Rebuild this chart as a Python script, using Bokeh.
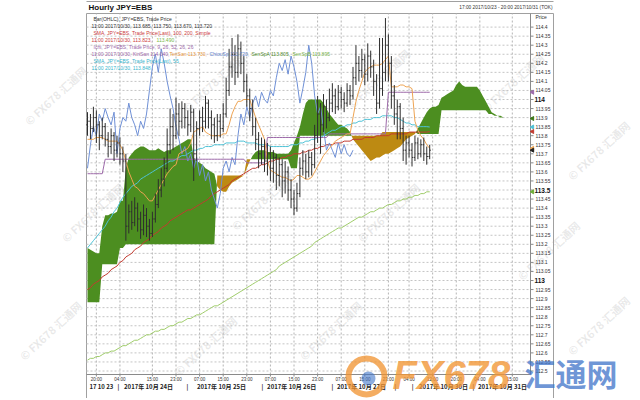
import numpy as np
from bokeh.plotting import figure
from bokeh.models import Range1d, Label
from bokeh.core.properties import value
from bokeh.embed import file_html
from bokeh.resources import INLINE

# ---------------- data (hourly bars, index 0 = 17:00 2017/10/23 TOK) ----------------
bar_open = [113.86, 113.88, 113.84, 113.90, 113.86, 113.80, 113.85, 113.78, 113.74, 113.80,
            113.72, 113.76, 113.70, 113.66, 113.30, 113.38, 113.32, 113.40, 113.34, 113.28,
            113.36, 113.30, 113.26, 113.34, 113.42, 113.50, 113.56, 113.62, 113.75, 113.85,
            113.80, 113.92, 113.88, 113.95, 113.90, 113.86, 113.93, 113.70, 113.84, 113.90,
            113.88, 113.98, 113.90, 113.86, 113.80, 113.88, 113.84, 113.92, 114.05, 114.18,
            114.25, 114.15, 114.28, 114.20, 114.10, 114.02, 113.95, 113.85, 113.78, 113.70,
            113.74, 113.66, 113.70, 113.62, 113.68, 113.58, 113.64, 113.55, 113.60, 113.50,
            113.45, 113.40, 113.48, 113.62, 113.66, 113.60, 113.68, 113.64, 113.80, 113.92,
            113.86, 113.96, 113.90, 113.98, 114.02, 113.96, 114.04, 114.00, 113.98, 114.05,
            114.02, 114.12, 114.20, 114.16, 114.22, 114.14, 114.24, 114.18, 114.10, 113.98,
            114.06, 114.15, 114.30, 114.20, 114.02, 113.92, 113.96, 113.84, 113.72, 113.76,
            113.72, 113.68, 113.76, 113.70, 113.75, 113.70, 113.685]
bar_high = [113.93, 113.92, 113.96, 113.94, 113.88, 113.90, 113.87, 113.82, 113.84, 113.82,
            113.80, 113.79, 113.74, 113.70, 113.42, 113.44, 113.46, 113.43, 113.38, 113.42,
            113.40, 113.34, 113.38, 113.48, 113.56, 113.62, 113.68, 113.84, 113.95, 113.92,
            114.01, 113.98, 113.99, 113.98, 113.94, 113.97, 113.95, 113.88, 113.94, 113.96,
            114.02, 114.00, 113.94, 113.90, 113.92, 113.92, 113.98, 114.12, 114.28, 114.34,
            114.30, 114.36, 114.32, 114.24, 114.14, 114.06, 114.00, 113.90, 113.82, 113.79,
            113.78, 113.76, 113.74, 113.72, 113.70, 113.68, 113.67, 113.66, 113.63, 113.56,
            113.50, 113.54, 113.68, 113.72, 113.70, 113.72, 113.71, 113.86, 114.02, 113.98,
            114.03, 114.00, 114.06, 114.09, 114.06, 114.08, 114.07, 114.04, 114.09, 114.08,
            114.18, 114.30, 114.24, 114.28, 114.25, 114.31, 114.27, 114.22, 114.14, 114.34,
            114.34, 114.45, 114.36, 114.24, 114.08, 114.00, 113.98, 113.90, 113.80, 113.80,
            113.76, 113.80, 113.79, 113.78, 113.79, 113.74, 113.75]
bar_low = [113.80, 113.78, 113.82, 113.76, 113.72, 113.78, 113.74, 113.68, 113.70, 113.66,
           113.68, 113.64, 113.60, 113.22, 113.26, 113.28, 113.30, 113.27, 113.23, 113.25,
           113.24, 113.22, 113.24, 113.32, 113.40, 113.46, 113.52, 113.60, 113.70, 113.72,
           113.78, 113.80, 113.84, 113.84, 113.80, 113.82, 113.55, 113.66, 113.80, 113.82,
           113.84, 113.84, 113.78, 113.76, 113.77, 113.79, 113.82, 113.90, 114.02, 114.12,
           114.08, 114.12, 114.14, 114.04, 113.96, 113.88, 113.80, 113.72, 113.62, 113.64,
           113.60, 113.58, 113.55, 113.54, 113.50, 113.52, 113.46, 113.48, 113.44, 113.40,
           113.36, 113.38, 113.46, 113.58, 113.56, 113.57, 113.58, 113.62, 113.76, 113.70,
           113.82, 113.84, 113.88, 113.93, 113.92, 113.94, 113.95, 113.93, 113.96, 113.97,
           114.00, 114.08, 114.10, 114.12, 114.08, 114.10, 114.12, 114.02, 113.92, 113.95,
           114.02, 114.10, 114.10, 113.95, 113.86, 113.78, 113.78, 113.66, 113.64, 113.68,
           113.63, 113.66, 113.67, 113.68, 113.66, 113.64, 113.67]
bar_close = [113.88, 113.84, 113.90, 113.86, 113.80, 113.85, 113.78, 113.74, 113.80, 113.72,
             113.76, 113.70, 113.66, 113.30, 113.38, 113.32, 113.40, 113.34, 113.28, 113.36,
             113.30, 113.26, 113.34, 113.42, 113.50, 113.56, 113.62, 113.75, 113.85, 113.80,
             113.92, 113.88, 113.95, 113.90, 113.86, 113.93, 113.70, 113.84, 113.90, 113.88,
             113.98, 113.90, 113.86, 113.80, 113.88, 113.84, 113.92, 114.05, 114.18, 114.25,
             114.15, 114.28, 114.20, 114.10, 114.02, 113.95, 113.85, 113.78, 113.70, 113.74,
             113.66, 113.70, 113.62, 113.68, 113.58, 113.64, 113.55, 113.60, 113.50, 113.45,
             113.40, 113.48, 113.62, 113.66, 113.60, 113.68, 113.64, 113.80, 113.92, 113.86,
             113.96, 113.90, 113.98, 114.02, 113.96, 114.04, 114.00, 113.98, 114.05, 114.02,
             114.12, 114.20, 114.16, 114.22, 114.14, 114.24, 114.18, 114.10, 113.98, 114.06,
             114.15, 114.30, 114.20, 114.02, 113.92, 113.96, 113.84, 113.72, 113.76, 113.72,
             113.68, 113.76, 113.70, 113.75, 113.70, 113.685, 113.72]

tenkan = [113.78, 113.78, 113.78, 113.79, 113.79, 113.79, 113.78, 113.77, 113.77, 113.77,
          113.77, 113.75, 113.72, 113.66, 113.60, 113.56, 113.52, 113.51, 113.49, 113.48,
          113.46, 113.44, 113.44, 113.47, 113.50, 113.53, 113.56, 113.59, 113.61, 113.63,
          113.64, 113.70, 113.71, 113.72, 113.73, 113.76, 113.82, 113.83, 113.84, 113.85,
          113.82, 113.81, 113.80, 113.80, 113.80, 113.80, 113.81, 113.81, 113.86, 113.92,
          113.96, 113.99, 113.99, 114.00, 114.00, 114.00, 113.95, 113.90, 113.86, 113.82,
          113.78, 113.66, 113.61, 113.60, 113.59, 113.58, 113.57, 113.57, 113.56, 113.55,
          113.56, 113.58, 113.58, 113.57, 113.56, 113.56, 113.57, 113.60, 113.63, 113.66,
          113.69, 113.71, 113.73, 113.75, 113.77, 113.78, 113.79, 113.80, 113.81, 113.81,
          113.90, 113.99, 114.05, 114.10, 114.15, 114.17, 114.18, 114.19, 114.19, 114.19,
          114.20, 114.22, 114.24, 114.07, 114.07, 114.07, 114.08, 114.08, 114.07, 114.07,
          114.06, 113.88, 113.83, 113.80, 113.78, 113.75, 113.73]
kijun = [113.59, 113.59, 113.59, 113.59, 113.59, 113.59, 113.67, 113.67, 113.67, 113.67,
         113.67, 113.67, 113.67, 113.67, 113.67, 113.67, 113.67, 113.67, 113.67, 113.67,
         113.67, 113.67, 113.67, 113.67, 113.67, 113.67, 113.67, 113.67, 113.67, 113.67,
         113.67, 113.67, 113.67, 113.67, 113.67, 113.67, 113.67, 113.67, 113.67, 113.67,
         113.67, 113.67, 113.67, 113.67, 113.67, 113.67, 113.67, 113.67, 113.67, 113.67,
         113.67, 113.67, 113.67, 113.67, 113.65, 113.65, 113.65, 113.65, 113.65, 113.65,
         113.65, 113.79, 113.79, 113.79, 113.79, 113.79, 113.79, 113.79, 113.79, 113.79,
         113.79, 113.79, 113.79, 113.79, 113.79, 113.79, 113.79, 113.79, 113.79, 113.79,
         113.79, 113.79, 113.81, 113.81, 113.81, 113.81, 113.81, 113.81, 113.81, 113.81,
         113.81, 113.81, 113.81, 113.81, 113.81, 113.81, 113.81, 113.81, 113.81, 113.81,
         113.81, 113.81, 114.04, 114.04, 114.04, 114.04, 114.04, 114.04, 114.04, 114.04,
         114.04, 114.04, 114.04, 114.04, 114.04, 114.04, 114.04]
# leading spans, already displaced 26 bars forward (index 0..142)
senkou_a = [113.18, 113.17, 113.16, 113.15, 113.15, 113.30, 113.36, 113.36, 113.37, 113.37,
            113.38, 113.44, 113.44, 113.62, 113.68, 113.70, 113.72, 113.73, 113.74, 113.74,
            113.73, 113.72, 113.72, 113.72, 113.73, 113.72, 113.71, 113.72, 113.72, 113.73,
            113.74, 113.75, 113.76, 113.77, 113.78, 113.78, 113.68, 113.66, 113.65, 113.64,
            113.62, 113.61, 113.60, 113.59, 113.52, 113.50, 113.49, 113.49, 113.52, 113.54,
            113.55, 113.56, 113.57, 113.58, 113.62, 113.66, 113.69, 113.71, 113.72, 113.72,
            113.72, 113.71, 113.71, 113.71, 113.70, 113.70, 113.70, 113.70, 113.70, 113.72,
            113.76, 113.80, 113.85, 113.92, 113.98, 114.00, 114.00, 114.00, 114.00, 114.00,
            113.98, 113.95, 113.92, 113.90, 113.88, 113.86, 113.86, 113.85, 113.84, 113.82,
            113.78, 113.76, 113.74, 113.72, 113.70, 113.68, 113.66, 113.67, 113.68, 113.68,
            113.69, 113.70, 113.70, 113.71, 113.72, 113.73, 113.74, 113.76, 113.78, 113.79,
            113.80, 113.81, 113.84, 113.87, 113.90, 113.93, 113.95, 113.96, 113.96, 113.97,
            114.01, 114.02, 114.03, 114.04, 114.05, 114.08, 114.10, 114.08, 114.07, 114.07,
            114.07, 114.07, 114.07, 114.05, 114.02, 113.99, 113.96, 113.93, 113.92, 113.91,
            113.91, 113.90, 113.895]
senkou_b = [112.88, 112.88, 112.88, 112.88, 112.88, 113.09, 113.09, 113.09, 113.09, 113.09,
            113.09, 113.18, 113.18, 113.20, 113.20, 113.20, 113.20, 113.20, 113.20, 113.20,
            113.20, 113.20, 113.20, 113.20, 113.20, 113.20, 113.20, 113.20, 113.20, 113.20,
            113.20, 113.20, 113.20, 113.20, 113.20, 113.20, 113.20, 113.20, 113.20, 113.20,
            113.20, 113.20, 113.20, 113.20, 113.58, 113.58, 113.58, 113.58, 113.58, 113.58,
            113.58, 113.58, 113.58, 113.58, 113.67, 113.67, 113.67, 113.67, 113.67, 113.67,
            113.67, 113.67, 113.67, 113.67, 113.67, 113.67, 113.67, 113.67, 113.67, 113.62,
            113.62, 113.62, 113.80, 113.80, 113.80, 113.80, 113.80, 113.80, 113.80, 113.80,
            113.80, 113.80, 113.80, 113.80, 113.80, 113.80, 113.80, 113.80, 113.80, 113.80,
            113.80, 113.80, 113.80, 113.80, 113.80, 113.80, 113.80, 113.80, 113.80, 113.80,
            113.82, 113.82, 113.82, 113.82, 113.82, 113.82, 113.82, 113.82, 113.82, 113.82,
            113.82, 113.82, 113.81, 113.81, 113.81, 113.81, 113.81, 113.81, 113.81, 113.81,
            113.94, 113.94, 113.94, 113.94, 113.94, 113.94, 113.94, 113.94, 113.94, 113.94,
            113.94, 113.94, 113.94, 113.94, 113.94, 113.94, 113.92, 113.92, 113.91, 113.91,
            113.90, 113.90, 113.895]
chikou_shift = 26

sma55 = [113.18, 113.20, 113.22, 113.24, 113.26, 113.28, 113.30, 113.33, 113.35, 113.38,
         113.40, 113.43, 113.46, 113.48, 113.50, 113.52, 113.53, 113.54, 113.56, 113.57,
         113.58, 113.59, 113.60, 113.61, 113.62, 113.63, 113.64, 113.65, 113.66, 113.66,
         113.67, 113.68, 113.69, 113.69, 113.70, 113.71, 113.72, 113.72, 113.73, 113.73,
         113.74, 113.74, 113.74, 113.75, 113.75, 113.75, 113.75, 113.76, 113.76, 113.76,
         113.76, 113.77, 113.77, 113.77, 113.76, 113.76, 113.76, 113.76, 113.75, 113.75,
         113.75, 113.75, 113.74, 113.74, 113.74, 113.74, 113.74, 113.74, 113.74, 113.75,
         113.75, 113.75, 113.76, 113.76, 113.77, 113.77, 113.78, 113.78, 113.79, 113.79,
         113.80, 113.81, 113.82, 113.83, 113.83, 113.84, 113.85, 113.85, 113.86, 113.86,
         113.87, 113.87, 113.88, 113.88, 113.89, 113.89, 113.89, 113.90, 113.90, 113.90,
         113.91, 113.91, 113.91, 113.91, 113.90, 113.90, 113.89, 113.88, 113.87, 113.87,
         113.86, 113.86, 113.85, 113.85, 113.85, 113.85, 113.848]
sma100 = [112.95, 112.96, 112.98, 112.99, 113.00, 113.02, 113.03, 113.04, 113.06, 113.07,
          113.08, 113.10, 113.11, 113.13, 113.14, 113.15, 113.17, 113.18, 113.19, 113.21,
          113.22, 113.23, 113.25, 113.26, 113.27, 113.29, 113.30, 113.31, 113.33, 113.34,
          113.35, 113.36, 113.37, 113.38, 113.39, 113.39, 113.40, 113.41, 113.42, 113.43,
          113.44, 113.45, 113.47, 113.48, 113.49, 113.50, 113.51, 113.52, 113.53, 113.55,
          113.56, 113.57, 113.58, 113.59, 113.60, 113.61, 113.62, 113.62, 113.63, 113.64,
          113.64, 113.65, 113.66, 113.66, 113.67, 113.67, 113.68, 113.68, 113.69, 113.69,
          113.70, 113.70, 113.70, 113.71, 113.71, 113.72, 113.72, 113.73, 113.73, 113.74,
          113.74, 113.75, 113.75, 113.75, 113.76, 113.76, 113.76, 113.77, 113.77, 113.77,
          113.78, 113.78, 113.78, 113.78, 113.79, 113.79, 113.79, 113.79, 113.80, 113.80,
          113.80, 113.80, 113.80, 113.81, 113.81, 113.81, 113.81, 113.81, 113.81, 113.82,
          113.82, 113.82, 113.82, 113.82, 113.82, 113.82, 113.823]
sma200 = [112.56, 112.57, 112.57, 112.58, 112.58, 112.59, 112.60, 112.60, 112.61, 112.61,
          112.62, 112.63, 112.64, 112.64, 112.65, 112.66, 112.67, 112.67, 112.68, 112.69,
          112.70, 112.70, 112.71, 112.72, 112.72, 112.73, 112.73, 112.74, 112.75, 112.75,
          112.76, 112.77, 112.77, 112.78, 112.79, 112.79, 112.80, 112.81, 112.81, 112.82,
          112.83, 112.84, 112.85, 112.86, 112.86, 112.87, 112.88, 112.89, 112.90, 112.91,
          112.92, 112.93, 112.94, 112.95, 112.96, 112.97, 112.98, 112.99, 113.00, 113.01,
          113.02, 113.03, 113.04, 113.05, 113.06, 113.08, 113.09, 113.10, 113.11, 113.12,
          113.13, 113.14, 113.15, 113.16, 113.17, 113.18, 113.19, 113.21, 113.22, 113.23,
          113.24, 113.25, 113.26, 113.27, 113.28, 113.29, 113.29, 113.30, 113.31, 113.32,
          113.33, 113.34, 113.35, 113.35, 113.36, 113.37, 113.38, 113.38, 113.39, 113.40,
          113.40, 113.41, 113.42, 113.42, 113.43, 113.44, 113.44, 113.45, 113.45, 113.46,
          113.46, 113.47, 113.47, 113.48, 113.48, 113.49, 113.49]

time_tick_index = [3, 11, 22, 30, 38, 46, 54, 62, 70, 78, 86, 94, 102, 109, 117, 125, 133, 144]
time_tick_labels = ["20:00", "04:00", "15:00", "23:00", "07:00", "15:00", "23:00", "07:00",
                    "15:00", "23:00", "07:00", "15:00", "23:00", "04:00", "12:00", "20:00",
                    "04:00", "15:00"]
date_tick_index = [4.7, 10.5, 20.7, 33.9, 45.4, 59.3, 69.2, 83.0, 92.9, 104.4, 110.2,
                   120.7, 130.8, 140.7]
date_tick_labels = ["17 10 23", "|", "2017年 10月 24日", "|", "2017年 10月 25日", "|",
                    "2017年 10月 26日", "|", "2017年 10月 27日", "|", "|",
                    "2017年 10月 30日", "|", "2017年 10月 31日"]
price_ticks = [112.5, 112.55, 112.6, 112.65, 112.7, 112.75, 112.8, 112.85, 112.9, 112.95,
               113.0, 113.05, 113.1, 113.15, 113.2, 113.25, 113.3, 113.35, 113.4, 113.45,
               113.5, 113.55, 113.6, 113.65, 113.7, 113.75, 113.8, 113.85, 113.9, 113.95,
               114.0, 114.05, 114.1, 114.15, 114.2, 114.25, 114.3, 114.35, 114.4]
bold_price_ticks = [113.0, 113.5, 114.0]

# ---------------- layout (reference pixel -> data) ----------------
CW, CH = 638, 398            # canvas
PL, PR, PT, PB = 86, 530, 13, 374   # price panel
BOX_R = 553
PXB = 2.95                   # px per hourly bar


def xd(px):
    return -0.34 + (px - 86) / PXB


def yd(py):
    return 114 - (py - 99) / 181.0


FONT = "Liberation Sans"
GREEN, GOLD = "#4c8e20", "#bd8a12"
C_TENKAN, C_KIJUN, C_CHIKOU = "#eea453", "#9d6aa9", "#6f90d6"
C_SMA55, C_SMA100, C_SMA200 = "#4ec2d6", "#c23b30", "#9fcc6a"
C_BAR = "#2e2e2e"
C_AX = "#8a8a8a"

p = figure(width=CW, height=CH, output_backend="svg", toolbar_location=None,
           x_range=Range1d(xd(0), xd(CW)), y_range=Range1d(yd(CH), yd(0)),
           x_axis_location=None, y_axis_location=None, min_border=0,
           background_fill_color="white", border_fill_color="white")
p.outline_line_color = None
p.grid.visible = False


def lab(px, py, text, color="#333333", size="5px", style="normal", align="left",
        font=FONT, angle=0.0, alpha=1.0):
    p.add_layout(Label(x=xd(px), y=yd(py), text=text, text_color=color, text_font_size=size,
                       text_font_style=style, text_align=align, text_baseline="middle",
                       text_font=font, angle=angle, text_alpha=alpha))


# watermarks (underneath everything)
for wx, wy in [(55, 95), (213, 82), (378, 78), (512, 82), (598, 150), (92, 212),
               (262, 200), (388, 212), (548, 250), (50, 330), (205, 345), (330, 330),
               (598, 325)]:
    p.text(x=[xd(wx)], y=[yd(wy)], text=["© FX678 汇通网"], text_color="#9a9a9a",
           text_alpha=0.22, text_font=value("Noto Sans CJK SC"), text_font_size=value("11px"),
           text_font_style="bold", text_align="center", text_baseline="middle", angle=0.75)

# outer box and top rule
p.segment(x0=[xd(86), xd(BOX_R), xd(86), xd(86)], y0=[yd(PT), yd(PT), yd(PT), yd(1)],
          x1=[xd(86), xd(BOX_R), xd(BOX_R), xd(BOX_R)], y1=[yd(CH), yd(CH), yd(PT), yd(1)],
          line_color="#a0a0a0", line_width=1)

# grid
p.segment(x0=time_tick_index, y0=yd(PB), x1=time_tick_index, y1=yd(PT),
          line_color="#b4b4b4", line_dash="2 2", line_width=1)
p.segment(x0=xd(PL), y0=price_ticks, x1=xd(PR), y1=price_ticks,
          line_color="#c4c4c4", line_dash="2 2", line_width=1)

# ---------------- Ichimoku cloud ----------------
sa = np.array(senkou_a)
sb = np.array(senkou_b)
cx, ca, cb = [], [], []
for k in range(len(sa)):
    cx.append(k); ca.append(sa[k]); cb.append(sb[k])
    if k < len(sa) - 1:
        d0 = sa[k] - sb[k]
        d1 = sa[k + 1] - sb[k + 1]
        if d0 * d1 < 0:
            t = d0 / (d0 - d1)
            yc = sa[k] + t * (sa[k + 1] - sa[k])
            cx.append(k + t); ca.append(yc); cb.append(yc)
cx, ca, cb = np.array(cx), np.array(ca), np.array(cb)
ctop = np.maximum(ca, cb)
p.varea(x=cx, y1=cb, y2=ctop, fill_color=GREEN)
p.varea(x=cx, y1=ca, y2=ctop, fill_color=GOLD)

idx = np.arange(len(bar_close))
p.line(idx, sma200, line_color=C_SMA200, line_width=1)
p.line(idx, sma100, line_color=C_SMA100, line_width=1)
p.line(idx, sma55, line_color=C_SMA55, line_width=1)
nch = len(bar_close) - chikou_shift
p.line(idx[:nch], bar_close[chikou_shift:], line_color=C_CHIKOU, line_width=1)
p.line(idx, kijun, line_color=C_KIJUN, line_width=1)
p.line(idx, tenkan, line_color=C_TENKAN, line_width=1)

# OHLC bars
p.segment(x0=idx, y0=bar_low, x1=idx, y1=bar_high, line_color=C_BAR, line_width=1)
p.segment(x0=idx - 0.4, y0=bar_open, x1=idx, y1=bar_open, line_color=C_BAR, line_width=1)
p.segment(x0=idx, y0=bar_close, x1=idx + 0.4, y1=bar_close, line_color=C_BAR, line_width=1)

# ---------------- axes ----------------
# right price axis
p.segment(x0=[xd(PR), xd(PL)], y0=[yd(PB), yd(PB)], x1=[xd(PR), xd(PR)], y1=[yd(PT), yd(PB)],
          line_color=C_AX, line_width=1)
p.segment(x0=xd(PR), y0=price_ticks, x1=xd(PR + 3), y1=price_ticks, line_color=C_AX)
reg = [v for v in price_ticks if v not in bold_price_ticks]
p.text(x=xd(PR + 5), y=reg, text=[f"{v:g}" for v in reg], text_color="#333333",
       text_font=value(FONT), text_font_size=value("5px"), text_align="left",
       text_baseline="middle")
p.text(x=xd(PR + 4), y=bold_price_ticks, text=[f"{v:g}" for v in bold_price_ticks],
       text_color="#111111", text_font=value(FONT), text_font_size=value("6.5px"),
       text_font_style="bold", text_align="left", text_baseline="middle")
# last-value markers at the price axis
last_vals = [kijun[-1], senkou_a[-1], sma55[-1], sma100[-1], tenkan[-1], bar_close[-1], sma200[-1]]
last_cols = [C_KIJUN, "#3d7a18", C_SMA55, C_SMA100, C_TENKAN, "#222222", "#6fae3a"]
p.scatter(x=xd(PR + 2), y=last_vals, marker="triangle", angle=np.pi / 2, size=4,
          fill_color=last_cols, line_color=last_cols)

# bottom time axis
p.segment(x0=time_tick_index, y0=yd(PB), x1=time_tick_index, y1=yd(PB + 2), line_color=C_AX)
p.text(x=time_tick_index, y=yd(379), text=time_tick_labels, text_color="#333333",
       text_font=value(FONT), text_font_size=value("4.5px"), text_align="center",
       text_baseline="middle")
p.text(x=date_tick_index, y=yd(386), text=date_tick_labels, text_color="#222222",
       text_font=value("Noto Sans CJK JP"), text_font_size=value("6px"),
       text_font_style="bold", text_align="center", text_baseline="middle")

# ---------------- titles and indicator legend ----------------
lab(88, 6.5, "Hourly JPY=EBS", color="#111111", size="8px", style="bold")
lab(552, 6.5, "17:00 2017/10/23 - 20:00 2017/10/31 (TOK)", size="4.8px", align="right")
lab(535, 16, "Price", size="5px")

lab(93, 18.5, "Bar(OHLC), JPY=EBS, Trade Price")
lab(91, 25.5, "11:00 2017/10/30, 113.685, 113.750, 113.670, 113.720")
lab(93, 32.5, "SMA, JPY=EBS, Trade Price(Last),  100, 200, Simple", color="#cc3b3b")
lab(91, 39.5, "11:00 2017/10/30, 113.823,", color="#cc3b3b")
lab(156, 39.5, "113.490", color="#78b848")
lab(93, 46.5, "Ichi, JPY=EBS, Trade Price,  9, 26, 52, 26, 26", color="#9d6aa9")
lab(91, 53.5, "11:00 2017/10/30, KiriSan 114.040,", color="#9d6aa9")
lab(169, 53.5, "TenSan 113.730,", color="#e8983f")
lab(209, 53.5, "ChiouSp 113.720,", color="#5f82cc")
lab(251, 53.5, "SenSpA 113.805,", color="#4f8a2a")
lab(292, 53.5, "SenSpB 113.895", color="#79b54a")
lab(93, 60.5, "SMA, JPY=EBS, Trade Price(Last),  55", color="#36b4cc")
lab(91, 67.5, "11:00 2017/10/30, 113.848", color="#36b4cc")

# ---------------- big watermark logo ----------------
p.scatter(x=[xd(366)], y=[yd(376)], marker="circle", size=36, fill_color=None,
          line_color="#f0922e", line_width=6, line_alpha=0.75)
p.scatter(x=[xd(368)], y=[yd(378)], marker="circle", size=14, fill_color="#3f74c9",
          line_color=None, fill_alpha=0.6)
lab(392, 374, "FX678", color="#f29634", size="40px", style="bold italic", alpha=0.8)
lab(524, 372, "汇通网", color="#3f74c9", size="31px", style="bold",
    font="Noto Sans CJK SC", alpha=0.75)

open("out.html", "w").write(file_html(p, INLINE))
